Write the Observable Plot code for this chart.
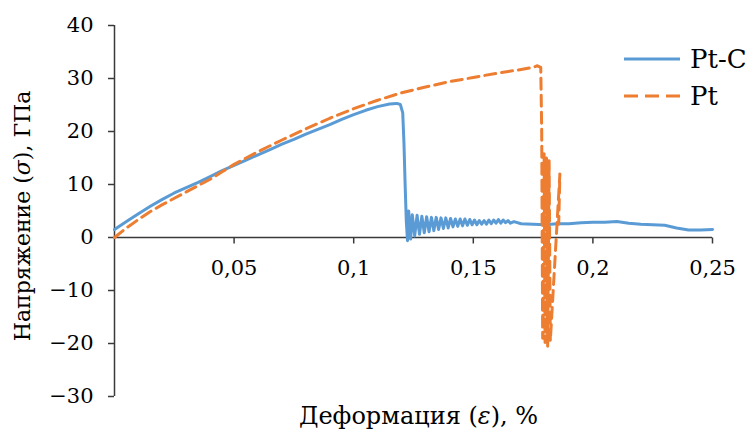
<!DOCTYPE html>
<html>
<head>
<meta charset="utf-8">
<script src="https://cdn.jsdelivr.net/npm/d3@7"></script>
<script src="https://cdn.jsdelivr.net/npm/@observablehq/plot@0.6"></script>
<style>
  html, body { margin: 0; padding: 0; background: #fff; overflow: hidden; }
  #chart { position: relative; width: 746px; height: 429px; }
</style>
</head>
<body>
<div id="chart"></div>
<script>
// Pt-C (solid blue)
const ptcStrain = [0, 0.005, 0.01, 0.015, 0.02, 0.025, 0.03, 0.035, 0.04, 0.045, 0.05, 0.055, 0.06, 0.065, 0.07, 0.075, 0.08, 0.085, 0.09, 0.095, 0.1, 0.105, 0.11, 0.115, 0.118, 0.1195, 0.1205, 0.121, 0.1215, 0.122, 0.1225,
  0.123, 0.1238, 0.1245, 0.1255, 0.1265, 0.1275, 0.1285, 0.1295, 0.1305, 0.1315, 0.1325, 0.1335, 0.1345, 0.1355, 0.1365, 0.1375, 0.1385, 0.1395, 0.1405, 0.1415, 0.1425, 0.1435, 0.1445, 0.1455, 0.1465, 0.1475, 0.1485, 0.1495, 0.1505, 0.1515, 0.1525, 0.1535, 0.1545, 0.1555, 0.1565, 0.1575, 0.1585, 0.1595, 0.1605, 0.1615, 0.1625, 0.1635, 0.1645, 0.1655, 0.167,
  0.17, 0.175, 0.18, 0.185, 0.19, 0.195, 0.2, 0.205, 0.21, 0.215, 0.22, 0.225, 0.23, 0.235, 0.24, 0.245, 0.25];
const ptcStress = [1.5, 3.0, 4.5, 5.9, 7.2, 8.4, 9.4, 10.4, 11.5, 12.6, 13.6, 14.6, 15.6, 16.6, 17.6, 18.5, 19.5, 20.4, 21.3, 22.3, 23.2, 24.0, 24.7, 25.2, 25.3, 25.1, 23.5, 18, 10, 3, -0.6,
  5.0, -0.3, 4.3, 0.3, 4.2, 0.6, 4.0, 0.9, 3.9, 1.1, 3.8, 1.3, 3.8, 1.5, 3.7, 1.7, 3.7, 1.8, 3.6, 2.0, 3.5, 2.1, 3.5, 2.2, 3.5, 2.3, 3.4, 2.4, 3.3, 2.4, 3.2, 2.5, 3.2, 2.5, 3.3, 2.6, 3.3, 2.7, 3.4, 2.7, 3.3, 2.8, 3.2, 2.7, 3.0,
  2.6, 2.5, 2.4, 2.6, 2.6, 2.8, 2.9, 2.9, 3.0, 2.7, 2.5, 2.4, 2.3, 1.8, 1.4, 1.4, 1.5];

// Pt (dashed orange)
const ptStrain = [0, 0.005, 0.01, 0.015, 0.02, 0.025, 0.03, 0.035, 0.04, 0.045, 0.05, 0.055, 0.06, 0.07, 0.08, 0.09, 0.1, 0.11, 0.12, 0.13, 0.14, 0.15, 0.16, 0.17, 0.175, 0.1768, 0.1782,
  0.1786, 0.1790, 0.1796, 0.1800, 0.1806, 0.1811, 0.1817, 0.1822, 0.1862, 0.1857];
const ptStress = [0, 1.8, 3.4, 4.9, 6.2, 7.4, 8.6, 9.8, 11.0, 12.4, 13.8, 15.0, 16.2, 18.4, 20.5, 22.5, 24.3, 25.9, 27.3, 28.4, 29.4, 30.2, 31.0, 31.7, 32.1, 32.4, 32.1,
  20, -19.0, 15.8, -19.8, 15.0, -20.5, 14.5, -19.5, 12.0, 2.5];

const xTicks = [0.05, 0.1, 0.15, 0.2, 0.25];
const xTickLabels = ["0,05", "0,1", "0,15", "0,2", "0,25"];
const yTicks = [-30, -20, -10, 0, 10, 20, 30, 40];
const seriesNames = ["Pt-C", "Pt"];
const xLabel = "Деформация (ε), %";
const yLabel = "Напряжение (σ), ГПа";

const blue = "#5B9BD5";
const orange = "#ED7D31";
const axisColor = "#3a3a3a";
const font = "DejaVu Serif";

const ptc = ptcStrain.map((x, i) => ({x, y: ptcStress[i]}));
const pt = ptStrain.map((x, i) => ({x, y: ptStress[i]}));
const xt = xTicks.map((x, i) => ({x, label: xTickLabels[i]}));

const tickSymbol = { draw(ctx) { ctx.moveTo(0, 0); ctx.lineTo(0, 6); } };

const chart = Plot.plot({
  width: 746,
  height: 429,
  marginTop: 25,
  marginBottom: 33,
  marginLeft: 114,
  marginRight: 34,
  style: { fontFamily: font, fontSize: "21px", background: "white", color: "#000" },
  x: { domain: [0, 0.25] },
  y: { domain: [-30, 40] },
  marks: [
    Plot.axisY({ anchor: "left", ticks: yTicks, tickSize: 6, tickPadding: 15, stroke: axisColor, strokeWidth: 1.5, fill: "#000", fontSize: 21, fontFamily: font, label: null }),
    Plot.axisX({ ticks: [], label: null }),
    Plot.ruleX([0], { stroke: axisColor, strokeWidth: 1.5 }),
    Plot.ruleY([0], { x1: 0, x2: 0.25, stroke: axisColor, strokeWidth: 1.5 }),
    Plot.dot(xt, { x: "x", y: 0, symbol: tickSymbol, stroke: axisColor, strokeWidth: 1.5, fill: "none", r: 3 }),
    Plot.text(xt, { x: "x", y: 0, dy: 31, text: "label", fontSize: 21, fontFamily: font, fill: "#000" }),
    Plot.line(ptc, { x: "x", y: "y", stroke: blue, strokeWidth: 3, strokeLinejoin: "round" }),
    Plot.line(pt, { x: "x", y: "y", stroke: orange, strokeWidth: 3, strokeDasharray: "11,6" }),
    Plot.text([xLabel], { frameAnchor: "bottom", dy: 20, dx: 5, textAnchor: "middle", lineAnchor: "middle", fontSize: 24, fontFamily: font, fill: "#000" }),
    Plot.text([yLabel], { frameAnchor: "left", dx: -92, dy: 5, rotate: -90, textAnchor: "middle", lineAnchor: "middle", fontSize: 22, fontFamily: font, fill: "#000" })
  ]
});

// italic Greek symbols
chart.querySelectorAll("text").forEach(t => {
  const s = t.textContent;
  if (/[σε]/.test(s) && t.children.length === 0) {
    t.textContent = "";
    s.split(/([σε])/).forEach(part => {
      if (!part) return;
      const ts = document.createElementNS("http://www.w3.org/2000/svg", "tspan");
      ts.textContent = part;
      if (/[σε]/.test(part)) ts.setAttribute("font-style", "italic");
      t.appendChild(ts);
    });
  }
});

// legend
const svg = d3.select(chart);
const legend = svg.append("g").attr("font-family", font).attr("font-size", 26);
const legendItems = [
  { name: seriesNames[0], color: blue, dash: null, y: 59 },
  { name: seriesNames[1], color: orange, dash: "14,7", y: 96 }
];
legendItems.forEach(d => {
  legend.append("line").attr("x1", 624).attr("x2", 680).attr("y1", d.y).attr("y2", d.y)
    .attr("stroke", d.color).attr("stroke-width", 3).attr("stroke-dasharray", d.dash);
  legend.append("text").attr("x", 690).attr("y", d.y).attr("dy", "0.36em").attr("fill", "#000").attr("text-anchor", "start").text(d.name);
});

document.getElementById("chart").appendChild(chart);
</script>
</body>
</html>
